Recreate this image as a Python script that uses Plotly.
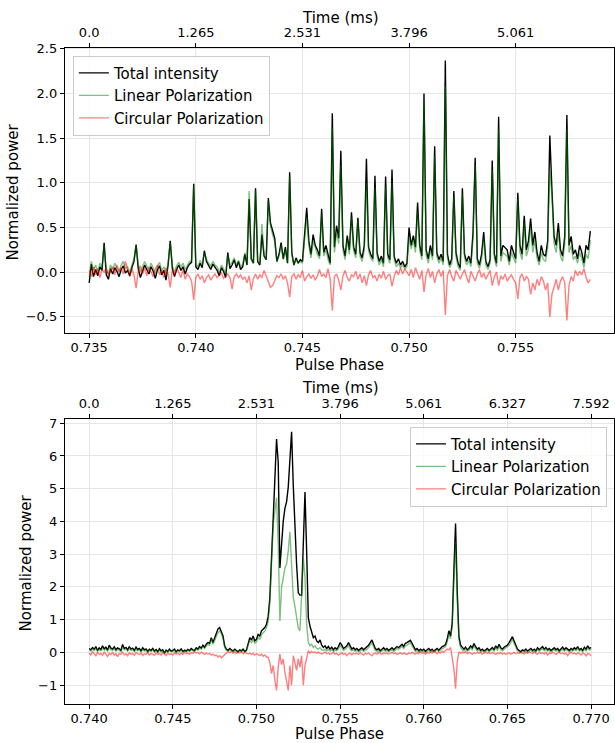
import plotly.graph_objects as go

# ---------------- DATA ----------------
# Top panel: pulse phase grid start / step
phase1_start = 0.735
phase1_step = 0.0001
total1 = [
    -0.12, 0.09, -0.05, 0.03, -0.04, 0.06, 0.02, 0.33, -0.03, -0.08,
    0.04, -0.02, 0.05, 0.01, -0.05, 0.03, 0.07, -0.01, 0.02, -0.04,
    0.05, 0.12, 0.31, 0.04, -0.06, 0.02, 0.08, 0.03, -0.02, 0.06,
    0.01, -0.07, 0.03, 0.07, -0.03, 0.02, -0.09, 0.08, 0.35, 0.04,
    -0.05, 0.03, 0.08, 0.02, 0.06, -0.02, 0.05, 0.09, 0.11, 0.99,
    0.06, 0.03, 0.10, 0.05, 0.24, 0.12, 0.07, 0.03, 0.09, 0.05,
    0.02, -0.04, 0.05, 0.01, -0.06, 0.22, 0.04, 0.08, 0.14, 0.05,
    0.12, 0.03, 0.06, 0.20, 0.08, 0.82, 0.15, 0.10, 0.94, 0.12,
    0.08, 0.42, 0.18, 0.14, 0.83, 0.55, 0.46, 0.38, 0.12, 0.20,
    0.33, 0.15, 0.28, 0.10, 1.12, 0.22, 0.08, 0.16, 0.10, 0.14,
    0.12, 0.46, 0.72, 0.35, 0.20, 0.42, 0.30, 0.25, 0.18, 0.71,
    0.22, 0.30, 0.18, 0.10, 1.78, 0.28, 0.52, 0.38, 1.36, 0.30,
    0.18, 0.41, 0.25, 0.67, 0.28, 0.20, 0.61, 0.22, 0.16, 0.30,
    1.27, 0.28, 0.20, 0.15, 1.08, 0.22, 0.12, 0.18, 0.10, 1.07,
    0.20, 0.14, 1.15, 0.18, 0.10, 0.15, 0.08, 0.12, 0.06, 0.10,
    0.50, 0.30, 0.41, 0.28, 0.78, 0.30, 0.18, 2.00, 0.25, 0.15,
    0.30, 0.18, 1.41, 0.22, 0.14, 0.20, 0.12, 2.37, 0.20, 0.08,
    0.15, 0.91, 0.22, 0.10, 0.05, 0.94, 0.20, 0.12, 0.18, 0.10,
    0.45, 1.28, 0.15, 0.08, 0.20, 0.45, 0.12, 0.06, 0.14, 1.25,
    0.20, 0.10, 1.74, 0.18, 0.30, 0.28, 0.25, 0.12, 0.30, 0.22,
    0.15, 0.89, 0.30, 0.20, 0.63, 0.25, 0.35, 0.60, 0.30, 0.45,
    0.22, 0.12, 0.30, 0.20, 0.18, 0.35, 1.53, 0.92, 0.40, 0.30,
    0.55, 0.25, 0.18, 0.40, 1.76, 0.30, 0.40, 0.20, 0.25, 0.15,
    0.30, 0.22, 0.10, 0.30, 0.25, 0.46,
]
linear1 = [
    -0.05, 0.12, 0.02, 0.08, 0.00, 0.10, 0.05, 0.30, 0.03, -0.02,
    0.08, 0.03, 0.10, 0.05, 0.00, 0.08, 0.12, 0.04, 0.06, 0.00,
    0.09, 0.15, 0.30, 0.08, 0.00, 0.06, 0.12, 0.07, 0.02, 0.10,
    0.05, -0.02, 0.07, 0.11, 0.02, 0.06, -0.03, 0.10, 0.33, 0.07,
    0.00, 0.07, 0.11, 0.06, 0.10, 0.03, 0.08, 0.12, 0.13, 0.97,
    0.09, 0.06, 0.13, 0.08, 0.22, 0.14, 0.10, 0.07, 0.12, 0.08,
    0.06, 0.00, 0.08, 0.04, -0.02, 0.20, 0.08, 0.11, 0.16, 0.08,
    0.13, 0.06, 0.09, 0.22, 0.10, 0.91, 0.14, 0.10, 0.92, 0.12,
    0.09, 0.54, 0.20, 0.14, 0.80, 0.52, 0.42, 0.34, 0.12, 0.18,
    0.30, 0.14, 0.25, 0.10, 1.08, 0.20, 0.08, 0.14, 0.10, 0.12,
    0.10, 0.38, 0.62, 0.30, 0.16, 0.35, 0.26, 0.20, 0.15, 0.65,
    0.18, 0.25, 0.14, 0.08, 1.62, 0.22, 0.45, 0.32, 1.20, 0.25,
    0.14, 0.36, 0.20, 0.62, 0.24, 0.16, 0.58, 0.18, 0.12, 0.25,
    1.00, 0.24, 0.16, 0.12, 0.95, 0.18, 0.08, 0.14, 0.06, 0.95,
    0.16, 0.10, 1.00, 0.14, 0.06, 0.10, 0.05, 0.08, 0.04, 0.06,
    0.40, 0.26, 0.36, 0.22, 0.68, 0.25, 0.14, 1.95, 0.20, 0.10,
    0.25, 0.14, 1.30, 0.18, 0.10, 0.16, 0.08, 2.08, 0.16, 0.05,
    0.10, 0.85, 0.18, 0.06, 0.02, 0.88, 0.16, 0.08, 0.13, 0.06,
    0.38, 1.20, 0.10, 0.04, 0.15, 0.38, 0.08, 0.03, 0.10, 1.15,
    0.15, 0.06, 1.60, 0.12, 0.22, 0.20, 0.18, 0.08, 0.22, 0.16,
    0.10, 0.82, 0.22, 0.14, 0.55, 0.18, 0.26, 0.52, 0.22, 0.36,
    0.16, 0.08, 0.22, 0.14, 0.12, 0.28, 1.15, 0.85, 0.32, 0.22,
    0.45, 0.18, 0.12, 0.32, 1.60, 0.22, 0.30, 0.14, 0.18, 0.10,
    0.22, 0.15, 0.05, 0.20, 0.15, 0.36,
]
circular1 = [
    0.02, -0.05, 0.06, -0.03, 0.04, -0.06, 0.03, 0.00, 0.05, -0.04,
    0.02, 0.06, -0.03, 0.08, 0.01, 0.05, -0.02, 0.12, 0.03, -0.05,
    0.04, -0.03, -0.18, 0.02, 0.07, -0.02, 0.05, -0.04, 0.06, 0.01,
    -0.05, 0.04, 0.08, -0.03, 0.02, -0.06, 0.05, -0.02, -0.17, 0.03,
    -0.04, 0.05, 0.00, -0.06, 0.03, -0.08, -0.02, -0.05, -0.10, -0.31,
    -0.06, -0.02, -0.08, -0.04, -0.12, -0.06, -0.03, -0.09, -0.05, -0.02,
    -0.06, -0.03, -0.01, -0.07, -0.04, -0.02, -0.06, -0.19, -0.05, -0.02,
    -0.06, -0.03, -0.08, -0.05, -0.12, -0.04, -0.20, -0.07, -0.02, -0.08,
    -0.03, -0.06, 0.02, -0.05, -0.12, -0.17, -0.15, -0.10, -0.04, -0.06,
    -0.02, -0.08, -0.04, -0.12, -0.28, -0.05, -0.02, -0.08, -0.03, -0.06,
    0.02, -0.10, -0.05, -0.02, -0.07, -0.03, -0.09, -0.04, 0.03, -0.05,
    -0.02, -0.06, 0.04, -0.08, -0.43, -0.05, -0.02, -0.09, -0.20, -0.04,
    0.02, -0.06, -0.10, -0.03, -0.05, 0.01, -0.08, -0.02, -0.12, -0.04,
    -0.15, -0.03, 0.02, -0.06, -0.04, -0.10, -0.02, -0.07, 0.01, -0.08,
    -0.04, -0.02, -0.16, -0.05, 0.02, -0.03, 0.05, -0.02, 0.04, 0.00,
    -0.04, 0.03, -0.06, 0.05, -0.02, -0.08, 0.02, -0.22, -0.03, 0.04,
    -0.06, 0.01, -0.12, -0.02, 0.03, -0.05, 0.02, -0.48, -0.04, 0.03,
    -0.05, -0.10, 0.02, -0.04, -0.08, -0.02, 0.03, -0.06, -0.12, 0.01,
    -0.04, -0.10, -0.02, 0.03, -0.06, -0.01, -0.08, -0.03, 0.02, -0.15,
    -0.05, 0.00, -0.15, -0.04, -0.08, -0.02, -0.10, -0.06, -0.03, -0.08,
    -0.12, -0.30, -0.06, -0.02, -0.10, -0.05, -0.08, -0.25, -0.12, -0.20,
    -0.08, -0.15, -0.05, -0.10, -0.20, -0.12, -0.50, -0.25, -0.15, -0.08,
    -0.20, -0.10, -0.05, -0.12, -0.54, -0.15, -0.05, -0.10, 0.02, -0.04,
    0.01, -0.03, 0.04, -0.06, -0.12, -0.08,
]

# Bottom panel
phase2_start = 0.740
phase2_step = 0.0001
total2 = [
    0.12, 0.08, 0.15, 0.10, 0.18, 0.06, 0.14, 0.09, 0.20, 0.11,
    0.16, 0.07, 0.22, 0.13, 0.10, 0.17, 0.08, 0.14, 0.11, 0.06,
    0.24, 0.12, 0.15, 0.08, 0.18, 0.10, 0.13, 0.06, 0.16, 0.09,
    0.12, 0.05, 0.14, 0.08, 0.11, 0.03, 0.10, 0.06, 0.12, 0.04,
    0.09, 0.02, 0.11, 0.05, 0.08, -0.02, 0.07, 0.03, 0.10, 0.04,
    0.06, 0.10, 0.02, 0.08, 0.05, 0.11, 0.03, 0.07, 0.04, 0.09,
    0.05, 0.12, 0.08, 0.06, 0.14, 0.10, 0.18, 0.13, 0.22, 0.16,
    0.25, 0.30, 0.28, 0.45, 0.30, 0.45, 0.62, 0.72, 0.76, 0.65,
    0.50, 0.20, 0.10, 0.06, 0.12, 0.08, 0.04, 0.10, 0.06, 0.02,
    0.08, 0.05, 0.10, 0.03, 0.07, 0.30, 0.45, 0.38, 0.50, 0.35,
    0.40, 0.55, 0.50, 0.66, 0.70, 0.76, 0.86, 1.10, 1.67, 3.08,
    4.30, 5.30, 6.52, 5.81, 2.58, 3.48, 4.00, 4.40, 4.60, 5.05,
    5.80, 6.74, 5.10, 3.60, 2.68, 1.82, 1.75, 1.75, 3.29, 4.90,
    3.08, 1.06, 0.80, 0.60, 0.45, 0.50, 0.35, 0.30, 0.38, 0.22,
    0.15, 0.20, 0.12, 0.18, 0.10, 0.16, 0.08, 0.14, 0.10, 0.18,
    0.30, 0.22, 0.12, 0.16, 0.20, 0.30, 0.18, 0.10, 0.14, 0.08,
    0.12, 0.06, 0.10, 0.14, 0.08, 0.12, 0.16, 0.22, 0.30, 0.38,
    0.25, 0.12, 0.08, 0.12, 0.05, 0.10, 0.14, 0.08, 0.12, 0.06,
    0.10, 0.14, 0.08, 0.12, 0.18, 0.15, 0.20, 0.25, 0.18, 0.28,
    0.30, 0.35, 0.37, 0.28, 0.15, 0.08, 0.12, 0.05, 0.10, 0.06,
    0.10, 0.03, 0.08, 0.12, 0.06, 0.10, 0.04, 0.08, 0.12, 0.07,
    0.14, 0.18, 0.20, 0.24, 0.40, 0.66, 0.50, 0.90, 2.50, 3.94,
    1.87, 0.50, 0.22, 0.14, 0.10, 0.16, 0.08, 0.12, 0.20, 0.14,
    0.27, 0.18, 0.10, 0.14, 0.06, 0.10, 0.05, 0.08, 0.12, 0.06,
    0.10, 0.15, 0.08, 0.20, 0.12, 0.25, 0.14, 0.10, 0.16, 0.20,
    0.22, 0.30, 0.40, 0.48, 0.35, 0.20, 0.10, 0.06, 0.02, 0.08,
    0.05, 0.10, 0.04, 0.08, 0.12, 0.06, 0.10, 0.05, 0.14, 0.08,
    0.12, 0.18, 0.10, 0.15, 0.08, 0.12, 0.06, 0.10, 0.14, 0.08,
    0.12, 0.05, 0.10, 0.16, 0.08, 0.14, 0.10, 0.06, 0.12, 0.08,
    0.14, 0.10, 0.18, 0.08, 0.12, 0.06, 0.16, 0.10, 0.20, 0.12,
    0.15,
]
linear2 = [
    0.08, 0.04, 0.10, 0.06, 0.12, 0.03, 0.09, 0.05, 0.13, 0.07,
    0.10, 0.04, 0.15, 0.08, 0.06, 0.11, 0.04, 0.09, 0.07, 0.03,
    0.16, 0.08, 0.10, 0.04, 0.12, 0.06, 0.08, 0.03, 0.10, 0.05,
    0.08, 0.02, 0.09, 0.04, 0.07, 0.00, 0.06, 0.03, 0.08, 0.01,
    0.05, 0.00, 0.07, 0.02, 0.05, -0.03, 0.04, 0.01, 0.06, 0.02,
    0.03, 0.06, 0.00, 0.05, 0.02, 0.07, 0.01, 0.04, 0.02, 0.06,
    0.03, 0.08, 0.05, 0.03, 0.10, 0.07, 0.13, 0.10, 0.17, 0.12,
    0.20, 0.24, 0.22, 0.42, 0.25, 0.38, 0.52, 0.60, 0.66, 0.58,
    0.42, 0.15, 0.07, 0.04, 0.08, 0.05, 0.02, 0.06, 0.03, 0.00,
    0.05, 0.03, 0.07, 0.01, 0.04, 0.22, 0.36, 0.30, 0.40, 0.28,
    0.32, 0.45, 0.40, 0.55, 0.60, 0.65, 0.75, 0.95, 1.50, 2.90,
    3.90, 4.30, 4.72, 3.30, 0.96, 1.97, 2.30, 2.58, 2.70, 3.10,
    3.68, 2.70, 1.67, 1.40, 1.00, 0.75, 0.66, 1.67, 2.88, 2.30,
    0.86, 0.30, 0.20, 0.25, 0.15, 0.20, 0.12, 0.10, 0.15, 0.08,
    0.06, 0.10, 0.05, 0.09, 0.04, 0.08, 0.03, 0.07, 0.05, 0.10,
    0.22, 0.15, 0.06, 0.10, 0.14, 0.22, 0.10, 0.05, 0.08, 0.03,
    0.06, 0.02, 0.05, 0.08, 0.03, 0.06, 0.10, 0.15, 0.22, 0.30,
    0.18, 0.06, 0.03, 0.06, 0.01, 0.05, 0.08, 0.03, 0.06, 0.02,
    0.05, 0.08, 0.03, 0.06, 0.12, 0.10, 0.14, 0.18, 0.12, 0.20,
    0.22, 0.27, 0.30, 0.20, 0.10, 0.03, 0.06, 0.01, 0.05, 0.02,
    0.05, 0.00, 0.04, 0.07, 0.02, 0.05, 0.01, 0.04, 0.07, 0.03,
    0.08, 0.12, 0.14, 0.18, 0.32, 0.55, 0.42, 0.80, 2.20, 3.39,
    1.60, 0.40, 0.15, 0.08, 0.05, 0.10, 0.04, 0.07, 0.14, 0.08,
    0.20, 0.12, 0.05, 0.08, 0.02, 0.05, 0.01, 0.04, 0.07, 0.02,
    0.05, 0.10, 0.04, 0.14, 0.07, 0.18, 0.09, 0.05, 0.10, 0.14,
    0.16, 0.22, 0.30, 0.40, 0.28, 0.14, 0.05, 0.02, -0.01, 0.04,
    0.01, 0.05, 0.00, 0.04, 0.07, 0.02, 0.05, 0.01, 0.09, 0.04,
    0.07, 0.12, 0.05, 0.10, 0.04, 0.07, 0.02, 0.05, 0.09, 0.04,
    0.07, 0.01, 0.05, 0.10, 0.04, 0.09, 0.05, 0.02, 0.07, 0.04,
    0.09, 0.05, 0.12, 0.04, 0.07, 0.02, 0.10, 0.05, 0.14, 0.07,
    0.10,
]
circular2 = [
    -0.02, -0.08, 0.02, -0.05, -0.10, 0.00, -0.06, -0.03, -0.09, 0.01,
    -0.05, -0.12, -0.02, -0.07, 0.01, -0.09, -0.04, -0.13, -0.03, -0.06,
    0.02, -0.08, -0.04, -0.10, -0.01, -0.06, -0.03, -0.09, 0.00, -0.05,
    -0.07, -0.02, -0.10, -0.04, -0.06, 0.01, -0.08, -0.03, -0.05, -0.09,
    -0.02, -0.06, -0.03, -0.08, 0.00, -0.05, -0.10, -0.02, -0.06, -0.04,
    -0.08, -0.01, -0.05, -0.03, -0.07, -0.02, -0.06, 0.01, -0.04, -0.02,
    -0.05, -0.01, -0.03, 0.02, -0.02, 0.00, -0.04, 0.01, -0.03, -0.06,
    -0.02, -0.05, -0.03, -0.08, -0.05, -0.10, -0.08, -0.14, -0.10, -0.16,
    -0.12, -0.06, -0.02, 0.02, -0.01, 0.03, -0.02, 0.01, -0.03, 0.00,
    -0.02, 0.02, -0.04, 0.00, -0.02, -0.05, -0.02, -0.06, -0.03, -0.08,
    -0.04, -0.06, -0.10, -0.05, -0.12, -0.08, -0.14, -0.15, -0.30, -0.65,
    -0.40, -0.85, -1.16, -0.45, -0.05, -0.37, -0.20, -0.60, -0.85, -1.16,
    -0.40, -1.00, -0.10, -0.30, -0.55, -0.20, -0.45, -0.10, -1.00, -0.40,
    -0.15, 0.05, -0.02, 0.03, -0.01, 0.02, -0.03, 0.01, -0.02, -0.05,
    -0.02, 0.01, -0.04, -0.01, -0.06, -0.02, 0.00, -0.05, -0.03, -0.08,
    -0.04, -0.01, -0.06, -0.03, -0.10, -0.04, -0.02, -0.07, -0.03, -0.05,
    -0.02, -0.06, -0.01, -0.04, -0.08, -0.03, -0.05, -0.02, -0.06, -0.10,
    -0.04, -0.02, -0.05, 0.00, -0.03, -0.06, -0.01, -0.04, -0.02, -0.05,
    -0.03, 0.00, -0.04, -0.02, -0.06, -0.03, -0.01, -0.05, -0.02, -0.04,
    -0.06, -0.02, -0.04, 0.00, -0.03, -0.05, -0.01, -0.04, 0.02, -0.03,
    -0.01, -0.05, 0.00, -0.03, 0.03, -0.02, 0.05, -0.01, -0.04, 0.01,
    -0.02, 0.04, 0.00, 0.06, 0.10, 0.08, 0.15, -0.17, -0.50, -1.11,
    -0.30, 0.02, -0.03, 0.01, -0.02, 0.02, -0.04, 0.00, -0.02, -0.05,
    -0.01, -0.04, 0.01, -0.03, 0.00, -0.05, -0.02, 0.01, -0.03, -0.01,
    -0.04, 0.00, -0.03, -0.06, -0.02, -0.04, 0.00, -0.05, -0.02, -0.06,
    -0.03, -0.01, -0.05, -0.02, 0.00, -0.04, -0.01, -0.03, 0.01, -0.02,
    -0.05, 0.00, -0.03, 0.02, -0.02, -0.04, 0.01, -0.03, -0.06, 0.00,
    -0.03, -0.01, -0.05, 0.00, -0.08, -0.02, -0.04, 0.01, -0.03, -0.06,
    -0.02, 0.00, -0.04, -0.01, -0.05, -0.02, -0.10, -0.03, 0.00, -0.04,
    -0.02, -0.06, -0.01, -0.03, -0.08, -0.02, -0.04, -0.11, -0.03, -0.05,
    -0.10,
]

phase_ticks1 = [0.735, 0.740, 0.745, 0.750, 0.755]
time_labels1 = ["0.0", "1.265", "2.531", "3.796", "5.061"]
y_ticks1 = [-0.5, 0.0, 0.5, 1.0, 1.5, 2.0, 2.5]
phase_ticks2 = [0.740, 0.745, 0.750, 0.755, 0.760, 0.765, 0.770]
time_labels2 = ["0.0", "1.265", "2.531", "3.796", "5.061", "6.327", "7.592"]
y_ticks2 = [-1, 0, 1, 2, 3, 4, 5, 6, 7]

series_names = ["Total intensity", "Linear Polarization", "Circular Polarization"]

# ---------------- FIGURE ----------------
W, H = 615, 743
FONT = "DejaVu Sans"
colors = ["#000000", "rgba(0,128,0,0.5)", "rgba(255,0,0,0.5)"]

def phases(start, step, n):
    return [round(start + k * step, 6) for k in range(n)]

x1 = phases(phase1_start, phase1_step, len(total1))
x2 = phases(phase2_start, phase2_step, len(total2))

fig = go.Figure()
for name, ys, c in zip(series_names, [total1, linear1, circular1], colors):
    fig.add_trace(go.Scatter(x=x1, y=ys, mode="lines", name=name,
                             line=dict(color=c, width=1.4), xaxis="x", yaxis="y",
                             legend="legend"))
for name, ys, c in zip(series_names, [total2, linear2, circular2], colors):
    fig.add_trace(go.Scatter(x=x2, y=ys, mode="lines", name=name,
                             line=dict(color=c, width=1.4), xaxis="x2", yaxis="y2",
                             legend="legend2"))
# invisible traces to activate the top (time) axes
fig.add_trace(go.Scatter(x=x1, y=total1, mode="lines", line=dict(width=0, color="rgba(0,0,0,0)"),
                         xaxis="x3", yaxis="y", showlegend=False, hoverinfo="skip"))
fig.add_trace(go.Scatter(x=x2, y=total2, mode="lines", line=dict(width=0, color="rgba(0,0,0,0)"),
                         xaxis="x4", yaxis="y2", showlegend=False, hoverinfo="skip"))

def px_x(p):
    return p / W

def px_y(p):
    return 1 - p / H

r1 = [0.73386, 0.75961]
r2 = [0.73855, 0.77137]
yr1 = [-0.685, 2.514]
yr2 = [-1.585, 7.14]

axis_common = dict(showline=True, linecolor="black", linewidth=1, ticks="outside",
                   ticklen=4, tickwidth=1, tickcolor="black",
                   tickfont=dict(family=FONT, size=13, color="black"),
                   gridcolor="#e6e6e6", gridwidth=1, zeroline=False)

def fmt(v, d):
    s = f"{v:.{d}f}"
    return s.replace("-", "\u2212")

dom_x1 = [px_x(65), 1.0]
dom_x2 = [px_x(65), 1.0]
dom_y1 = [px_y(330), px_y(42)]
dom_y2 = [px_y(704), px_y(416)]

fig.update_layout(
    width=W, height=H, margin=dict(l=0, r=0, t=0, b=0),
    paper_bgcolor="white", plot_bgcolor="white",
    font=dict(family=FONT, color="black"),
    xaxis=dict(domain=dom_x1, anchor="y", range=r1, mirror=True,
               tickvals=phase_ticks1, ticktext=[fmt(v, 3) for v in phase_ticks1],
               showgrid=True, ticklabelstandoff=-2, **axis_common),
    yaxis=dict(domain=dom_y1, anchor="x", range=yr1, mirror=True,
               tickvals=y_ticks1, ticktext=[fmt(v, 1) for v in y_ticks1],
               showgrid=True, **axis_common),
    xaxis3=dict(overlaying="x", anchor="y", side="top", range=r1,
                tickvals=phase_ticks1, ticktext=time_labels1, showgrid=False,
                **axis_common),
    xaxis2=dict(domain=dom_x2, anchor="y2", range=r2, mirror=True,
                tickvals=phase_ticks2, ticktext=[fmt(v, 3) for v in phase_ticks2],
                showgrid=True, ticklabelstandoff=-2, **axis_common),
    yaxis2=dict(domain=dom_y2, anchor="x2", range=yr2, mirror=True,
                tickvals=y_ticks2, ticktext=[fmt(v, 0) for v in y_ticks2],
                showgrid=True, **axis_common),
    xaxis4=dict(overlaying="x2", anchor="y2", side="top", range=r2,
                tickvals=phase_ticks2, ticktext=time_labels2, showgrid=False,
                **axis_common),
    legend=dict(x=px_x(73), y=px_y(50), xanchor="left", yanchor="top",
                bgcolor="rgba(255,255,255,0.8)", bordercolor="#cccccc", borderwidth=1,
                font=dict(family=FONT, size=15, color="black"), tracegroupgap=0),
    legend2=dict(x=px_x(608), y=px_y(424), xanchor="right", yanchor="top",
                 bgcolor="rgba(255,255,255,0.8)", bordercolor="#cccccc", borderwidth=1,
                 font=dict(family=FONT, size=15, color="black"), tracegroupgap=0),
    showlegend=True,
)

ann_font = dict(family=FONT, size=15, color="black")
annotations = [
    dict(text="Time (ms)", x=px_x(341), y=px_y(12)),
    dict(text="Pulse Phase", x=px_x(340), y=px_y(362)),
    dict(text="Time (ms)", x=px_x(341), y=px_y(385)),
    dict(text="Pulse Phase", x=px_x(340), y=px_y(734)),
    dict(text="Normalized power", x=px_x(14), y=px_y(187), textangle=-90),
    dict(text="Normalized power", x=px_x(27), y=px_y(561), textangle=-90),
]
for a in annotations:
    fig.add_annotation(xref="paper", yref="paper", xanchor="center", yanchor="middle",
                       showarrow=False, font=ann_font, **a)

fig.write_html("out.html")
